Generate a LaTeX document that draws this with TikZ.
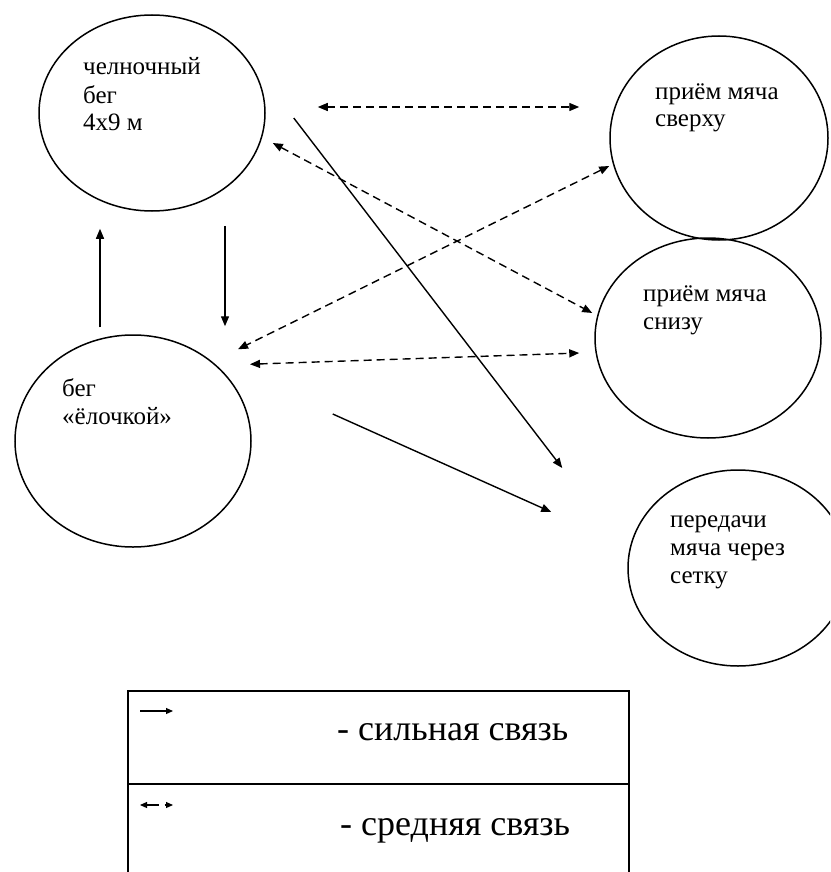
\documentclass[tikz,border=0pt]{standalone}
\usepackage{fontspec}
\setmainfont{Liberation Serif}
\usetikzlibrary{arrows.meta, shapes.geometric}

\begin{document}
\begin{tikzpicture}[
    x=1pt, y=-1pt,
    elp/.style={ellipse, draw, line width=1.5pt, inner sep=0pt},
    txt/.style={font=\fontsize{25}{28}\selectfont, align=left, inner sep=0pt, anchor=base west},
    leg/.style={font=\fontsize{36}{40}\selectfont, inner sep=0pt, anchor=base west},
    cell/.style={draw, line width=1.6pt, minimum width=501pt, anchor=north west, inner sep=0pt},
    sv/.style={-{Triangle[length=10pt, width=8pt]}, line width=1.4pt},
    svb/.style={{Triangle[length=10pt, width=8pt]}-{Triangle[length=10pt, width=8pt]}, line width=1.4pt, dash pattern=on 8pt off 5pt},
    lsv/.style={-{Triangle[length=7pt, width=6pt]}, line width=1.2pt},
    lsvb/.style={{Triangle[length=7pt, width=6pt]}-{Triangle[length=7pt, width=6pt]}, line width=1.2pt, dash pattern=on 12pt off 6pt}
]
\useasboundingbox (0,0) rectangle (830,872);
\clip (0,0) rectangle (830,872);

\node[elp, minimum width=226pt, minimum height=196pt] (shuttle) at (152,113) {};
\node[elp, minimum width=218pt, minimum height=204pt] (upper) at (719,138) {};
\node[elp, minimum width=226pt, minimum height=200pt] (lower) at (708,338) {};
\node[elp, minimum width=236pt, minimum height=212pt] (herring) at (133,441) {};
\node[elp, minimum width=220pt, minimum height=196pt] (pass) at (738,568) {};

\node[txt] (shuttletxt) at (83,131) {челночный\\бег\\4х9 м};
\node[txt] (uppertxt) at (655,127) {приём мяча\\сверху};
\node[txt] (lowertxt) at (643,329) {приём мяча\\снизу};
\node[txt] (herringtxt) at (62,424) {бег\\«ёлочкой»};
\node[txt] (passtxt) at (670,583) {передачи\\мяча через\\сетку};

\draw[svb] ([shift={(52,-6)}]shuttle.east) -- ([shift={(-30,-31)}]upper.west);
\draw[sv] ([shift={(28,5)}]shuttle.east) -- ([shift={(-65,-100)}]pass.west);
\draw[svb] ([shift={(7,30)}]shuttle.east) -- ([shift={(-2,-25)}]lower.west);
\draw[svb] ([shift={(0,28)}]upper.west) -- ([shift={(105,15)}]herring.north);
\draw[svb] ([shift={(117,30)}]herring.north) -- ([shift={(-15,15)}]lower.west);
\draw[sv] ([shift={(81,-27)}]herring.east) -- ([shift={(-76,-56)}]pass.west);
\draw[sv] ([shift={(73,14)}]shuttle.south) -- ([shift={(92,-8)}]herring.north);
\draw[sv] ([shift={(-33,-7)}]herring.north) -- ([shift={(-52,17)}]shuttle.south);

\node[cell, minimum height=93pt] (row1) at (127,690) {};
\node[cell, minimum height=120pt] (row2) at (127,783) {};
\draw[lsv] ([shift={(13,21)}]row1.north west) -- ([shift={(46,21)}]row1.north west);
\draw[lsvb] ([shift={(13,22)}]row2.north west) -- ([shift={(46,22)}]row2.north west);
\node[leg] (strong) at ([shift={(210,50)}]row1.north west) {- сильная связь};
\node[leg] (medium) at ([shift={(213,52)}]row2.north west) {- средняя связь};
\end{tikzpicture}
\end{document}
